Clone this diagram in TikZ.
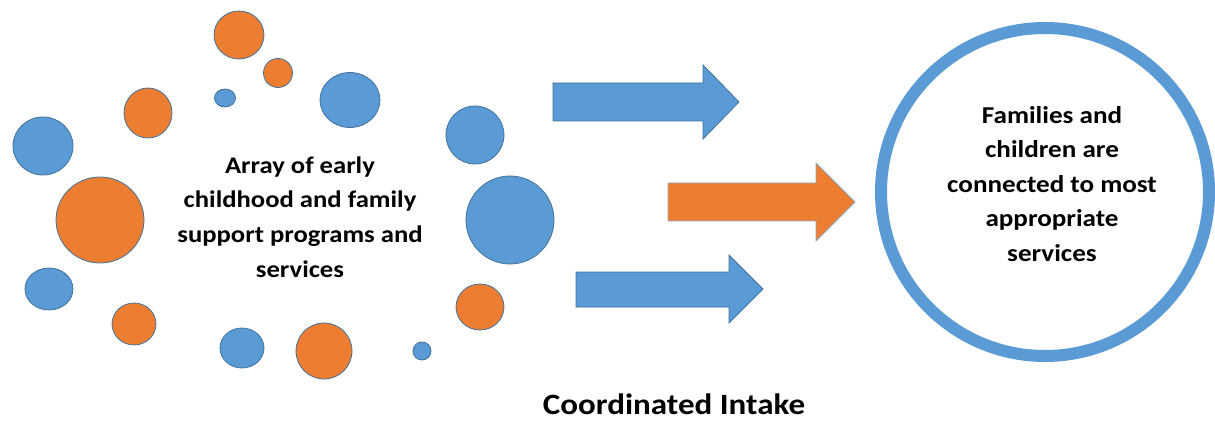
\documentclass[tikz,border=0pt]{standalone}
\usepackage{fontspec}
\setmainfont{Carlito}
\newfontfamily\widefont[FakeStretch=1.12]{Carlito}
\definecolor{cblue}{HTML}{5B9BD5}
\definecolor{corange}{HTML}{ED7D31}
\definecolor{cedge}{HTML}{41719C}
\begin{document}
\begin{tikzpicture}[x=1pt,y=-1pt,
  bdot/.style={fill=cblue,draw=cedge,line width=0.8pt},
  odot/.style={fill=corange,draw=cedge,line width=0.8pt},
  barrow/.style={fill=cblue,draw=cedge,line width=0.8pt},
  oarrow/.style={fill=corange,draw=cedge!60,line width=0.8pt},
  lbl/.style={align=center,font=\widefont\bfseries\fontsize{23.8}{34.7}\selectfont,text=black,inner sep=0pt}]
\useasboundingbox (0,0) rectangle (1215,422);
% circles
\path[odot] (239,35) ellipse [x radius=25,y radius=24];
\path[odot] (278,73) ellipse [x radius=14.5,y radius=14.5];
\path[bdot] (225,98) ellipse [x radius=10.5,y radius=9];
\path[bdot] (350,100) ellipse [x radius=30,y radius=27.5];
\path[odot] (148,113) ellipse [x radius=24,y radius=25];
\path[bdot] (43,146) ellipse [x radius=30,y radius=29];
\path[odot] (100,220) ellipse [x radius=44,y radius=43];
\path[bdot] (49,289) ellipse [x radius=24,y radius=21];
\path[odot] (134,324) ellipse [x radius=22,y radius=21];
\path[bdot] (242,348) ellipse [x radius=22,y radius=20];
\path[odot] (324,351) ellipse [x radius=28,y radius=28];
\path[bdot] (422,351) ellipse [x radius=9,y radius=9];
\path[bdot] (475,135) ellipse [x radius=29,y radius=29];
\path[bdot] (510,220) ellipse [x radius=44,y radius=44];
\path[odot] (480,307) ellipse [x radius=24,y radius=23];
% arrows
\path[barrow] (553,83) -- (703,83) -- (703,65) -- (739,102) -- (703,139) -- (703,121) -- (553,121) -- cycle;
\path[oarrow] (668,183) -- (816,183) -- (816,163) -- (855,202) -- (816,241) -- (816,221) -- (668,221) -- cycle;
\path[barrow] (576,272) -- (729,272) -- (729,255) -- (763,289) -- (729,323) -- (729,307) -- (576,307) -- cycle;
% big ring
\node[circle,draw=cblue,line width=12pt,minimum size=328pt,inner sep=0pt] (ring) at (1045,192) {};
% texts
\node[lbl] (array) at (300,217) {Array of early\\childhood and family\\support programs and\\services};
\node[lbl,font=\widefont\bfseries\fontsize{24.2}{34.5}\selectfont] (fam) at (1052,184) {Families and\\children are\\connected to most\\appropriate\\services};
\node[lbl,font=\widefont\bfseries\fontsize{29.5}{34}\selectfont,anchor=base] (ci) at (674,414) {Coordinated Intake};
\end{tikzpicture}
\end{document}
